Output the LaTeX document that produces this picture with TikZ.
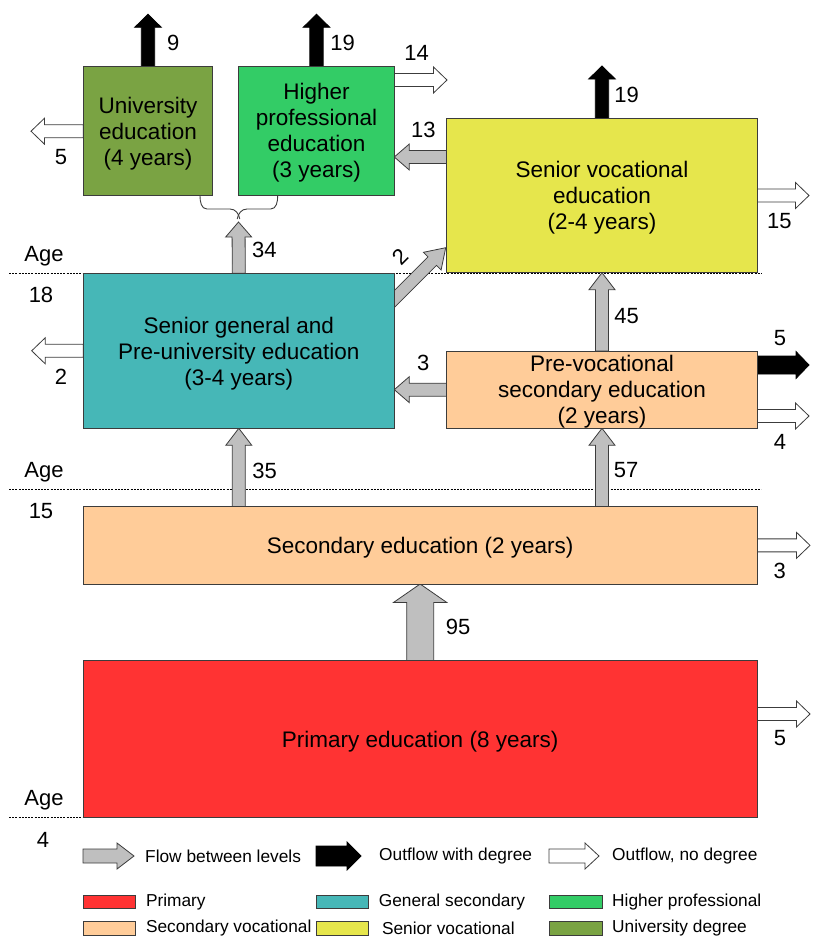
\documentclass[tikz,border=0pt]{standalone}
\usepackage{fontspec}
\setmainfont{Liberation Sans}
\usetikzlibrary{calc}
\pgfdeclarelayer{bg}
\pgfsetlayers{bg,main}
\definecolor{cUniv}{RGB}{122,163,67}
\definecolor{cHP}{RGB}{51,204,102}
\definecolor{cSV}{RGB}{230,230,76}
\definecolor{cGen}{RGB}{70,183,183}
\definecolor{cVoc}{RGB}{255,204,153}
\definecolor{cPrim}{RGB}{255,51,51}
\definecolor{cGray}{RGB}{191,191,191}
\definecolor{cLine}{RGB}{60,60,60}
\newcommand\bxfont{\fontsize{22.5}{26}\selectfont}
\newcommand\lbfont{\fontsize{22}{26}\selectfont}
\newcommand\lgfont{\fontsize{17.3}{20}\selectfont}
% block arrow: style, from, to, shaft half width, head half width, head length
\newcommand\barrow[6]{%
  \coordinate (hb) at ($(#3)!#6pt!(#2)$);
  \draw[#1] ($(#2)!#4pt!90:(#3)$) -- ($(hb)!#4pt!90:(#3)$) -- ($(hb)!#5pt!90:(#3)$)
     -- (#3) -- ($(hb)!#5pt!-90:(#3)$) -- ($(hb)!#4pt!-90:(#3)$) -- ($(#2)!#4pt!-90:(#3)$) -- cycle;
}
\tikzset{
  ebox/.style={draw=cLine, line width=1pt, inner sep=0pt, outer sep=0pt, anchor=north west},
  bxtext/.style={font=\bxfont, align=center, inner sep=0pt},
  flow/.style={draw=cLine, fill=cGray, line width=0.8pt, line join=miter},
  deg/.style={draw=black, fill=black, line width=0.8pt, line join=miter},
  nodeg/.style={draw=cLine, fill=white, line width=0.8pt, line join=miter},
  lbl/.style={font=\lbfont, inner sep=0pt},
  lgd/.style={font=\lgfont, inner sep=0pt, anchor=west},
  swatch/.style={draw=cLine, line width=0.8pt},
  ageline/.style={dash pattern=on 2pt off 1.2pt, line width=0.7pt},
  brace/.style={draw=cLine, line width=0.9pt}
}
\begin{document}
\begin{tikzpicture}[x=1pt,y=-1pt]
\useasboundingbox (0,0) rectangle (817,940);

% boxes
\node[ebox, fill=cUniv, minimum width=129.4pt, minimum height=129pt] (univ) at (83.3,66.7) {};
\node[ebox, fill=cHP, minimum width=155.6pt, minimum height=129pt] (hp) at (238.7,66.7) {};
\node[ebox, fill=cSV, minimum width=310.6pt, minimum height=154.4pt] (svoc) at (446.7,118.3) {};
\node[ebox, fill=cGen, minimum width=311pt, minimum height=155pt] (gen) at (83.3,273.3) {};
\node[ebox, fill=cVoc, minimum width=310.6pt, minimum height=77.3pt] (prevoc) at (446.7,351) {};
\node[ebox, fill=cVoc, minimum width=673.7pt, minimum height=77.3pt] (sec) at (83.3,506.7) {};
\node[ebox, fill=cPrim, minimum width=673.7pt, minimum height=156.6pt] (prim) at (83.3,660.7) {};

% box texts
\node[bxtext] (univT) at ($(univ.center)+(0,2.2)$) {University\\education\\(4 years)};
\node[bxtext] (hpT) at ($(hp.center)+(0,1.2)$) {Higher\\professional\\education\\(3 years)};
\node[bxtext] (svocT) at ($(svoc.center)+(0,2.5)$) {Senior vocational\\education\\(2-4 years)};
\node[bxtext] (genT) at ($(gen.center)+(0,2.5)$) {Senior general and\\Pre-university education\\(3-4 years)};
\node[bxtext] (prevocT) at ($(prevoc.center)+(0,2)$) {Pre-vocational\\secondary education\\(2 years)};
\node[bxtext] (secT) at ($(sec.center)+(0,2)$) {Secondary education (2 years)};
\node[bxtext] (primT) at ($(prim.center)+(0,2.5)$) {Primary education (8 years)};

% endpoints
\coordinate (a35) at (gen.south |- sec.north);
\coordinate (a57) at (prevoc.south |- sec.north);
\coordinate (a3) at (gen.east |- prevoc.west);
\coordinate (s13) at (svoc.west |- 0,157);
\coordinate (t13) at (hp.east |- 0,157);
\coordinate (t34) at (238.5,222);
\coordinate (sd) at (380,313.4);
\coordinate (td) at (445.7,247.7);
\coordinate (tu) at (univ.north |- 0,14.3);
\coordinate (th) at (hp.north |- 0,14.3);
\coordinate (tsv) at (svoc.north |- 0,66);
\coordinate (s5b) at (prevoc.east |- 0,365);
\coordinate (t5b) at (809,365);
\coordinate (tu5) at (univ.west -| 31,0);
\coordinate (tg2) at (gen.west -| 31.7,0);
\coordinate (s14) at (hp.east |- 0,80);
\coordinate (t14) at (447,80);
\coordinate (t15) at (svoc.east -| 809,0);
\coordinate (s4) at (prevoc.east |- 0,416);
\coordinate (t4) at (809,416);
\coordinate (t3) at (sec.east -| 810,0);
\coordinate (s5p) at (prim.east |- 0,714);
\coordinate (t5p) at (810,714);

\begin{pgfonlayer}{bg}
  \draw[ageline] (9,273.3) -- (762,273.3);
  \draw[ageline] (9,489.3) -- (761,489.3);
  \draw[ageline] (9,817) -- (83,817);
  % flows between levels
  \barrow{flow}{prim.north}{sec.south}{13.5}{26.7}{18.5}
  \barrow{flow}{a35}{gen.south}{6.5}{13}{17}
  \barrow{flow}{a57}{prevoc.south}{6.5}{13}{17}
  \barrow{flow}{prevoc.north}{svoc.south}{6.5}{13}{17}
  \barrow{flow}{prevoc.west}{a3}{6.5}{13}{15}
  \barrow{flow}{s13}{t13}{6.5}{13}{15}
  \barrow{flow}{gen.north}{t34}{6.5}{13}{15}
  \barrow{flow}{sd}{td}{6}{12.5}{19}
  % outflows with degree
  \barrow{deg}{univ.north}{tu}{6.7}{13.3}{13}
  \barrow{deg}{hp.north}{th}{6.7}{13.3}{13}
  \barrow{deg}{svoc.north}{tsv}{6.7}{13.3}{13}
  \barrow{deg}{s5b}{t5b}{9}{13.5}{13}
  % outflows without degree
  \barrow{nodeg}{univ.west}{tu5}{6.5}{13}{13.5}
  \barrow{nodeg}{gen.west}{tg2}{6.5}{13}{13.5}
  \barrow{nodeg}{s14}{t14}{6.5}{13}{13.5}
  \barrow{nodeg}{svoc.east}{t15}{6.5}{13}{13.5}
  \barrow{nodeg}{s4}{t4}{6.5}{13}{13.5}
  \barrow{nodeg}{sec.east}{t3}{6.5}{13}{13.5}
  \barrow{nodeg}{s5p}{t5p}{6.5}{13}{13.5}
\end{pgfonlayer}

% brace
\draw[brace] (univ.south -| 200,0) to[out=-90,in=180] (207,209) -- (230,209) to[out=0,in=100] (239.8,219);
\draw[brace] (hp.south -| 277.7,0) to[out=-90,in=0] (270.7,209) -- (247,209) to[out=180,in=80] (237.2,219);

% labels
\node[lbl] (l9) at (173.3,43.3) {9};
\node[lbl] (l19a) at (342.7,43.3) {19};
\node[lbl] (l14) at (416.7,53.3) {14};
\node[lbl] (l13) at (423.3,130) {13};
\node[lbl] (l5u) at (61,156.7) {5};
\node[lbl] (l34) at (264.3,250) {34};
\node[lbl] (l19b) at (626.7,95) {19};
\node[lbl] (l15) at (779.3,220.7) {15};
\node[lbl, rotate=45] (l2d) at (400.7,256.7) {2};
\node[lbl] (l2g) at (61,376.7) {2};
\node[lbl] (l3) at (423.3,363.3) {3};
\node[lbl] (l45) at (626.7,316) {45};
\node[lbl] (l5b) at (780,338.3) {5};
\node[lbl] (l4) at (780,441.7) {4};
\node[lbl] (l35) at (264.6,470.5) {35};
\node[lbl] (l57) at (626,470.5) {57};
\node[lbl] (l3s) at (779.7,571) {3};
\node[lbl] (l95) at (458,626.7) {95};
\node[lbl] (l5p) at (780,738) {5};

% ages
\node[lbl, anchor=base] (age18) at (44,261) {Age};
\node[lbl] (n18) at (41,295) {18};
\node[lbl, anchor=base] (age15) at (44,477) {Age};
\node[lbl] (n15) at (41,511) {15};
\node[lbl, anchor=base] (age4) at (44,805) {Age};
\node[lbl] (n4) at (43,840) {4};

% legend
\coordinate (g1a) at (83,856); \coordinate (g1b) at (134,856);
\coordinate (g2a) at (316,856); \coordinate (g2b) at (361,856);
\coordinate (g3a) at (549,856); \coordinate (g3b) at (599,856);
\barrow{flow}{g1a}{g1b}{7}{13}{17}
\barrow{deg}{g2a}{g2b}{10}{14}{14}
\barrow{nodeg}{g3a}{g3b}{7}{13}{14}
\node[lgd] (lg1) at (145,856) {Flow between levels};
\node[lgd] (lg2) at (379,856) {Outflow with degree};
\node[lgd] (lg3) at (612,856) {Outflow, no degree};

\draw[swatch, fill=cPrim] (83,895.7) rectangle (135.5,908.3);
\draw[swatch, fill=cGen] (316,895.7) rectangle (368.5,908.3);
\draw[swatch, fill=cHP] (549.5,895.7) rectangle (602,908.3);
\draw[swatch, fill=cVoc] (83,921) rectangle (135.5,935);
\draw[swatch, fill=cSV] (316,921) rectangle (368.5,935);
\draw[swatch, fill=cUniv] (549.5,921) rectangle (602,935);
\node[lgd] (lp) at (145.8,902) {Primary};
\node[lgd] (lgs) at (378.6,902) {General secondary};
\node[lgd] (lhp) at (612,902) {Higher professional};
\node[lgd] (lsv) at (145.8,928) {Secondary vocational};
\node[lgd] (lsvo) at (381.8,928) {Senior vocational};
\node[lgd] (lud) at (612,928) {University degree};
\end{tikzpicture}
\end{document}
